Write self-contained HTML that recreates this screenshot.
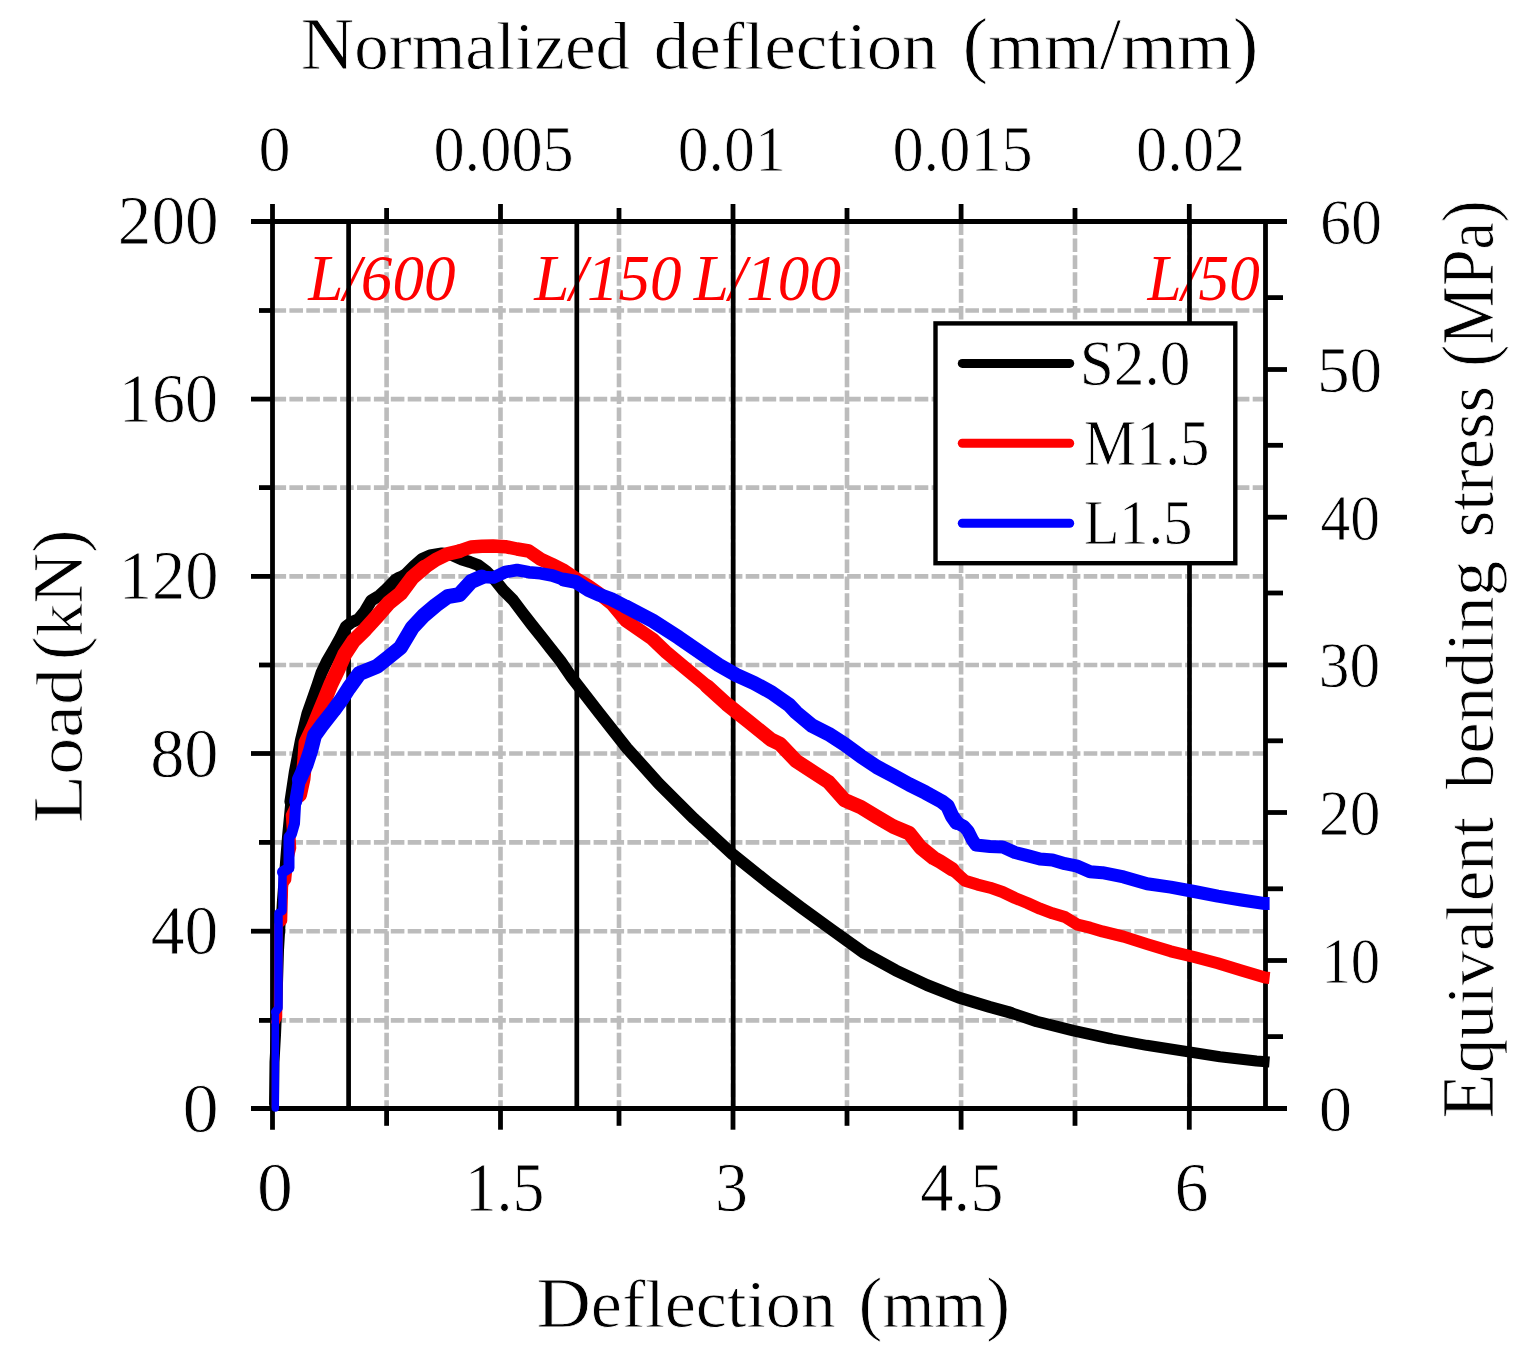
<!DOCTYPE html>
<html><head><meta charset="utf-8"><title>Load-deflection chart</title>
<style>html,body{margin:0;padding:0;background:#fff;} svg{display:block;}</style>
</head><body>
<svg width="1528" height="1361" viewBox="0 0 1528 1361">
<rect width="1528" height="1361" fill="#fff"/>
<g stroke="#bcbcbc" stroke-width="4.6" stroke-dasharray="13.6 3.3" fill="none">
<line x1="272.5" y1="1020.4" x2="1265.5" y2="1020.4"/>
<line x1="272.5" y1="931.2" x2="1265.5" y2="931.2"/>
<line x1="272.5" y1="842.4" x2="1265.5" y2="842.4"/>
<line x1="272.5" y1="753.5" x2="1265.5" y2="753.5"/>
<line x1="272.5" y1="665.0" x2="1265.5" y2="665.0"/>
<line x1="272.5" y1="576.4" x2="1265.5" y2="576.4"/>
<line x1="272.5" y1="487.6" x2="1265.5" y2="487.6"/>
<line x1="272.5" y1="399.1" x2="1265.5" y2="399.1"/>
<line x1="272.5" y1="310.5" x2="1265.5" y2="310.5"/>
<line x1="386.6" y1="221.5" x2="386.6" y2="1108.5"/>
<line x1="500.5" y1="221.5" x2="500.5" y2="1108.5"/>
<line x1="619.0" y1="221.5" x2="619.0" y2="1108.5"/>
<line x1="733.0" y1="221.5" x2="733.0" y2="1108.5"/>
<line x1="847.0" y1="221.5" x2="847.0" y2="1108.5"/>
<line x1="961.1" y1="221.5" x2="961.1" y2="1108.5"/>
<line x1="1075.0" y1="221.5" x2="1075.0" y2="1108.5"/>
<line x1="1189.3" y1="221.5" x2="1189.3" y2="1108.5"/>
</g>
<g font-family="'Liberation Serif', serif">
<text transform="translate(308.23 300) scale(0.95 1)" font-size="66.46" font-style="italic" fill="#ff0000">L/600</text>
<text transform="translate(534.33 300) scale(0.95 1)" font-size="66.46" font-style="italic" fill="#ff0000">L/150</text>
<text transform="translate(693.63 300) scale(0.95 1)" font-size="66.46" font-style="italic" fill="#ff0000">L/100</text>
<text transform="translate(1147.61 300) scale(0.92 1)" font-size="66.46" font-style="italic" fill="#ff0000">L/50</text>
</g>
<g stroke="#000" stroke-width="4.7">
<line x1="348.6" y1="221.5" x2="348.6" y2="1108.5"/>
<line x1="576.8" y1="221.5" x2="576.8" y2="1108.5"/>
<line x1="733.2" y1="221.5" x2="733.2" y2="1108.5"/>
<line x1="1189.5" y1="221.5" x2="1189.5" y2="1108.5"/>
</g>
<g stroke="#000" stroke-width="4.8" stroke-linecap="butt">
<line x1="251" y1="221.5" x2="1287" y2="221.5"/>
<line x1="251" y1="1108.5" x2="1287" y2="1108.5"/>
<line x1="272.5" y1="204" x2="272.5" y2="1129.7"/>
<line x1="1265.5" y1="219.1" x2="1265.5" y2="1110.9"/>
<line x1="259" y1="1020.4" x2="272.5" y2="1020.4"/>
<line x1="251" y1="931.2" x2="272.5" y2="931.2"/>
<line x1="259" y1="842.4" x2="272.5" y2="842.4"/>
<line x1="251" y1="753.5" x2="272.5" y2="753.5"/>
<line x1="259" y1="665.0" x2="272.5" y2="665.0"/>
<line x1="251" y1="576.4" x2="272.5" y2="576.4"/>
<line x1="259" y1="487.6" x2="272.5" y2="487.6"/>
<line x1="251" y1="399.1" x2="272.5" y2="399.1"/>
<line x1="259" y1="310.5" x2="272.5" y2="310.5"/>
<line x1="1265.5" y1="1036.6" x2="1283" y2="1036.6"/>
<line x1="1265.5" y1="960.5" x2="1287" y2="960.5"/>
<line x1="1265.5" y1="888.8" x2="1283" y2="888.8"/>
<line x1="1265.5" y1="812.5" x2="1287" y2="812.5"/>
<line x1="1265.5" y1="740.8" x2="1283" y2="740.8"/>
<line x1="1265.5" y1="664.9" x2="1287" y2="664.9"/>
<line x1="1265.5" y1="593.0" x2="1283" y2="593.0"/>
<line x1="1265.5" y1="517.2" x2="1287" y2="517.2"/>
<line x1="1265.5" y1="445.3" x2="1283" y2="445.3"/>
<line x1="1265.5" y1="369.5" x2="1287" y2="369.5"/>
<line x1="1265.5" y1="297.6" x2="1283" y2="297.6"/>
<line x1="386.6" y1="221.5" x2="386.6" y2="208"/>
<line x1="386.6" y1="1108.5" x2="386.6" y2="1125.8"/>
<line x1="500.5" y1="221.5" x2="500.5" y2="204"/>
<line x1="500.5" y1="1108.5" x2="500.5" y2="1129.7"/>
<line x1="619.0" y1="221.5" x2="619.0" y2="208"/>
<line x1="619.0" y1="1108.5" x2="619.0" y2="1125.8"/>
<line x1="733.0" y1="221.5" x2="733.0" y2="204"/>
<line x1="733.0" y1="1108.5" x2="733.0" y2="1129.7"/>
<line x1="847.0" y1="221.5" x2="847.0" y2="208"/>
<line x1="847.0" y1="1108.5" x2="847.0" y2="1125.8"/>
<line x1="961.1" y1="221.5" x2="961.1" y2="204"/>
<line x1="961.1" y1="1108.5" x2="961.1" y2="1129.7"/>
<line x1="1075.0" y1="221.5" x2="1075.0" y2="208"/>
<line x1="1075.0" y1="1108.5" x2="1075.0" y2="1125.8"/>
<line x1="1189.3" y1="221.5" x2="1189.3" y2="204"/>
<line x1="1189.3" y1="1108.5" x2="1189.3" y2="1129.7"/>
</g>
<g fill="none" stroke="#000" stroke-linejoin="round"><path d="M274 1104 L274.5 1062 L276 1035 L277.5 1000 L279 950 L282 900 L284.5 869 L287 837 L290.4 801.6" stroke-width="10" stroke-linecap="round"/><path d="M290.4 801.6 L294.8 772.2 L301 740 L307.5 713.4 L313.5 696.4 L317.6 684.7 L321.5 672.9 L327 661.2 L334 649.4 L340.5 637.6 L346 626.5 L352 622 L358.4 619.2 L365.1 610.9 L371.2 600.7 L379.5 595.5 L385 590.5 L390 585.5 L395.3 580 L399.5 577.5 L402 576.5 L406 574 L410 570 L414 566 L422 559 L430 555.5 L442 553.5 L452 555 L462 559.5 L470 562 L478 565 L486 571 L495 580 L503 590 L513 600 L522 612 L532 625 L542 637.5 L551 649 L560.5 661 L571.8 677.6 L599.1 712.9 L627 748.2 L658.7 783.4 L694 818.7 L732.3 854 L770 884.1 L801.4 907.7 L832.8 930.5 L864.2 953 L895.6 970.3 L927.1 985.2 L958.5 997.5 L989.9 1007 L1010 1012.5" stroke-width="12" stroke-linecap="round"/><path d="M1010 1012.5 L1036.7 1021.5 L1073.3 1030.7 L1110 1038.6" stroke-width="11.5" stroke-linecap="round"/><path d="M1110 1038.6 L1146.6 1045.3 L1183.3 1051 L1219.9 1056.8 L1256.5 1061 L1269.5 1062" stroke-width="11" stroke-linecap="butt"/></g>
<g fill="none" stroke="#ff0000" stroke-linejoin="round"><path d="M275.3 1107 L275.5 1022" stroke-width="7" stroke-linecap="round"/><path d="M275.5 1022 L278 1017 L278.5 925 L283 921 L284 884 L287 880 L289 860 L292 848 L291 830 L290 815 L299.5 795" stroke-width="8.5" stroke-linecap="round"/><path d="M299.5 795 L303 779 L305 757.5 L306 742.8 L313 728 L319 713.4 L325 698.8 L331 684 L338 669.4 L344.5 654.7 L353.5 641 L365.3 629.3 L377 616.4 L388.8 602.8 L400.5 593.5 L412.3 577.6 L424 567.6" stroke-width="15" stroke-linecap="round"/><path d="M424 567.6 L435.8 559.7 L447.5 554 L459.3 551.2" stroke-width="14" stroke-linecap="round"/><path d="M459.3 551.2 L471 547 L481.8 546.3 L493 546 L505.3 546.7 L517 549 L528.8 551 L540.5 559.1 L552.3 564.6 L564 570.5 L575.8 578.5 L587.6 585.5 L599 593.5 L612 604 L626 620.8 L652.4 639 L666 652 L681.5 665 L707.2 686.4" stroke-width="13.5" stroke-linecap="round"/><path d="M707.2 686.4 L726.6 704 L748.7 721.7 L770.7 739.4 L780 744 L796.2 761 L812.3 771.5 L828.5 782 L844.7 800.2 L860.8 807.1 L877 817 L893.2 826.5 L909.3 833.3 L920.6 847.5 L933.6 858 L940 861.5 L952.5 869.5" stroke-width="14.5" stroke-linecap="round"/><path d="M952.5 869.5 L965 880.7 L977.5 884.6 L990 887.7 L1002.5 892 L1015 898 L1027.4 903 L1040 908.7 L1052.4 913.3 L1065 917 L1077.4 924.6 L1090 927.7 L1102.4 931.4 L1123.6 936.6 L1147.1 944.1 L1170.7 951.3 L1194.2 957 L1217.8 963.3 L1241.4 970.4 L1265 977.5 L1269.6 978" stroke-width="12" stroke-linecap="butt"/></g>
<g fill="none" stroke="#0000ff" stroke-linejoin="round"><path d="M275.3 1108 L275.3 1012" stroke-width="7.5" stroke-linecap="round"/><path d="M275.3 1012 L278.5 1008 L278.5 913 L282.5 911 L282.5 872" stroke-width="8.5" stroke-linecap="round"/><path d="M282.5 872 L289 868 L289 837 L291.5 834 L294.5 823.6 L295.7 801.6" stroke-width="11" stroke-linecap="round"/><path d="M295.7 801.6 L299.4 779.5" stroke-width="13" stroke-linecap="round"/><path d="M299.4 779.5 L306 764.9 L310.8 750.2 L314.5 735.5 L322 725.2 L333.5 710.5 L342 698.8 L348.6 688.5 L359.4 673.5 L377 666.4 L388.8 657 L400.5 647.5 L412.3 627.6 L424 615.2 L435.8 605.2 L447.5 596.7 L459.3 594.6 L471 581.7 L481.8 576.9" stroke-width="15" stroke-linecap="round"/><path d="M481.8 576.9 L493.5 577.6 L505.3 572 L517 570 L528.8 572.2 L540.5 573.3 L552.3 575.5 L564 579.7" stroke-width="12.5" stroke-linecap="round"/><path d="M564 579.7 L575.8 581.8 L587.6 589.5 L600 595 L611 599 L626.2 606.9" stroke-width="14" stroke-linecap="round"/><path d="M626.2 606.9 L652.4 620.7 L678.5 637.4 L704.7 655.4 L718.7 665 L736.3 675 L754 683 L771.6 692.6 L789.2 705 L796.2 712.5 L812.3 725.8 L828.5 733.9 L844.7 744.4 L860.8 756.2 L877 767 L893.2 775.6 L909.3 784.5 L925.5 792.6 L941.7 801.5 L947.5 806 L952 816 L956.5 822.5" stroke-width="14.5" stroke-linecap="round"/><path d="M956.5 822.5 L964 826.5 L968 831 L972.5 840 L976 845 L990 846.5 L1002.5 846.9 L1015 852.5 L1027.4 855.6 L1040 859 L1052.4 860 L1065 863.7 L1077.4 866.2 L1090 871.8 L1102.4 872.7 L1123.6 876.9 L1147.1 883.7 L1170.7 887.1 L1194.2 891.5 L1217.8 896.2 L1241.4 900 L1265 903.6 L1269.6 903.6" stroke-width="13" stroke-linecap="butt"/></g>
<g font-family="'Liberation Serif', serif" stroke="#fff" stroke-width="0.8">
<rect x="935.5" y="323.4" width="299.8" height="239.8" fill="#fff" stroke="#000" stroke-width="4.4"/>
<line x1="962.3" y1="363.4" x2="1069.7" y2="363.4" stroke="#000" stroke-width="9" stroke-linecap="round"/>
<line x1="962.3" y1="443.3" x2="1069.7" y2="443.3" stroke="#ff0000" stroke-width="9" stroke-linecap="round"/>
<line x1="962.3" y1="523.3" x2="1069.7" y2="523.3" stroke="#0000ff" stroke-width="9" stroke-linecap="round"/>
<text transform="translate(1079.7 385.33) scale(0.95 1)" font-size="64.56">S2.0</text>
<text transform="translate(1083.64 465) scale(0.91 1)" font-size="64.58">M1.5</text>
<text transform="translate(1083.65 544.3) scale(0.91 1)" font-size="64.27">L1.5</text>
</g>
<g font-family="'Liberation Serif', serif" fill="#000" stroke="#fff" stroke-width="0.8">
<text transform="translate(300.69 69.4) scale(1.01 1)" font-size="73.44">N<tspan font-size="68.29">ormalized</tspan></text>
<text transform="translate(653.82 69.4) scale(1.04 1)" font-size="73.44"><tspan font-size="68.29">deflection</tspan></text>
<text transform="translate(962.54 69.4) scale(1.05 1)" font-size="73.44">(<tspan font-size="68.29">mm</tspan>/<tspan font-size="68.29">mm</tspan>)</text>
<text transform="translate(536.44 1326.5) scale(1.05 1)" font-size="71.76">D<tspan font-size="66.73">eflection</tspan></text>
<text transform="translate(858.57 1326.5) scale(1 1)" font-size="71.76">(<tspan font-size="66.73">mm</tspan>)</text>
<text transform="translate(82 823.28) rotate(-90) scale(1.12 1)" font-size="70.99">L<tspan font-size="66.02">oad</tspan></text>
<text transform="translate(82 659.96) rotate(-90) scale(0.99 1)" font-size="70.99">(<tspan font-size="66.02">k</tspan>N)</text>
<text transform="translate(1493 1118.51) rotate(-90) scale(1.01 1)" font-size="73.28">E<tspan font-size="68.15">quivalent</tspan></text>
<text transform="translate(1493 789.2) rotate(-90) scale(1.04 1)" font-size="73.28"><tspan font-size="68.15">bending</tspan></text>
<text transform="translate(1493 537.35) rotate(-90) scale(1 1)" font-size="73.28"><tspan font-size="68.15">stress</tspan></text>
<text transform="translate(1493 366.67) rotate(-90) scale(0.9 1)" font-size="73.28">(MP<tspan font-size="68.15">a</tspan>)</text>
<text transform="translate(117.78 244.01) scale(0.97 1)" font-size="69.33">200</text>
<text transform="translate(118.82 422.2) scale(0.95 1)" font-size="69.63">160</text>
<text transform="translate(118.82 598.91) scale(0.96 1)" font-size="69.33">120</text>
<text transform="translate(150.17 777.2) scale(0.98 1)" font-size="69.78">80</text>
<text transform="translate(150.64 954.3) scale(0.97 1)" font-size="69.63">40</text>
<text transform="translate(182.61 1131.8) scale(1.04 1)" font-size="69.63">0</text>
<text transform="translate(257.03 1211.3) scale(1.03 1)" font-size="69.63">0</text>
<text transform="translate(464.65 1210.95) scale(0.91 1)" font-size="70.15">1.5</text>
<text transform="translate(715.12 1211.3) scale(0.94 1)" font-size="70.15">3</text>
<text transform="translate(920.27 1210.95) scale(0.95 1)" font-size="70.15">4.5</text>
<text transform="translate(1174.44 1211.3) scale(0.97 1)" font-size="70.15">6</text>
<text transform="translate(258.53 171.15) scale(0.98 1)" font-size="65.48">0</text>
<text transform="translate(433.41 170.82) scale(0.96 1)" font-size="65">0.005</text>
<text transform="translate(677.73 170.82) scale(0.95 1)" font-size="65">0.01</text>
<text transform="translate(892.4 170.82) scale(0.96 1)" font-size="65">0.015</text>
<text transform="translate(1136.1 170.82) scale(0.96 1)" font-size="65">0.02</text>
<text transform="translate(1320.01 243.64) scale(0.94 1)" font-size="66.07">60</text>
<text transform="translate(1316.89 391.84) scale(0.99 1)" font-size="66.07">50</text>
<text transform="translate(1320.6 539.54) scale(0.9 1)" font-size="66.07">40</text>
<text transform="translate(1318.71 687.24) scale(0.93 1)" font-size="66.07">30</text>
<text transform="translate(1319.04 834.84) scale(0.93 1)" font-size="66.07">20</text>
<text transform="translate(1321.39 982.84) scale(0.89 1)" font-size="66.07">10</text>
<text transform="translate(1318.73 1130.84) scale(1.01 1)" font-size="66.07">0</text>
</g>
</svg>
</body></html>
